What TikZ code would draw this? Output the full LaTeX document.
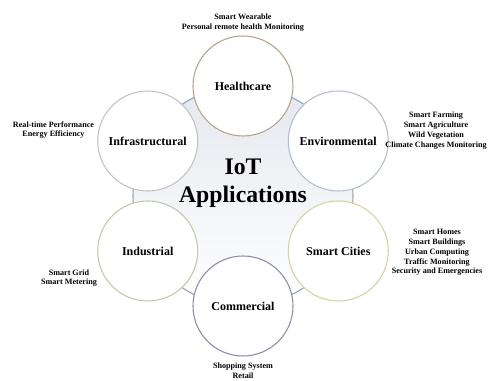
\documentclass[tikz,border=0pt]{standalone}
\usepackage{fontspec}
\setmainfont{Liberation Serif}

\definecolor{hubline}{HTML}{8FA0B8}
\definecolor{hubfill}{HTML}{E5E8EF}
\definecolor{rimhealth}{HTML}{B5A48A}
\definecolor{rimenv}{HTML}{B3BECC}
\definecolor{rimcity}{HTML}{D6D19E}
\definecolor{rimshop}{HTML}{8E8CA8}
\definecolor{rimindus}{HTML}{C3C8A9}
\definecolor{riminfra}{HTML}{C2C2C2}

\tikzset{
  app/.style={circle, draw=#1, line width=0.8pt, fill=white,
    minimum size=75pt, inner sep=0pt,
    font=\fontsize{9}{11}\selectfont\bfseries},
  uses/.style={align=center, inner sep=0pt,
    font=\fontsize{6.1}{7.3}\selectfont\bfseries},
}

\begin{document}
\begin{tikzpicture}[x=0.75pt, y=0.75pt]
      \useasboundingbox (-243,-185) rectangle (246,196);
      % hub behind the six fields
      \node[circle, draw=hubline, line width=0.8pt, top color=hubfill,
        bottom color=white, minimum size=165pt] (hub) at (0,0) {};
      \node[align=center, font=\fontsize{17.8}{21}\selectfont\bfseries]
        (title) at (0,12.5) {IoT\\Applications};
      \draw
        (90:110) node[app=rimhealth] (health){Healthcare}
        (30:110) node[app=rimenv] (env){Environmental}
        (-30:110) node[app=rimcity] (city){Smart Cities}
        (-90:110) node[app=rimshop] (shop){Commercial}
        (-150:110) node[app=rimindus] (indus){Industrial}
        (150:110) node[app=riminfra] (infra){Infrastructural};
      % what each field covers
      \begin{scope}[every node/.style={uses}]
        \node (healthuses) at (0,173.5) {Smart Wearable\\Personal remote health Monitoring};
        \node (envuses) at (193,65.5) {Smart Farming\\Smart Agriculture\\Wild Vegetation\\Climate Changes Monitoring};
        \node (cityuses) at (194,-56.5) {Smart Homes\\Smart Buildings\\Urban Computing\\Traffic Monitoring\\Security and Emergencies};
        \node (shopuses) at (0,-175) {Shopping System\\Retail};
        \node (indususes) at (-174,-82) {Smart Grid\\Smart Metering};
        \node (infrauses) at (-189.5,66) {Real-time Performance\\Energy Efficiency};
      \end{scope}
    \end{tikzpicture}
\end{document}
